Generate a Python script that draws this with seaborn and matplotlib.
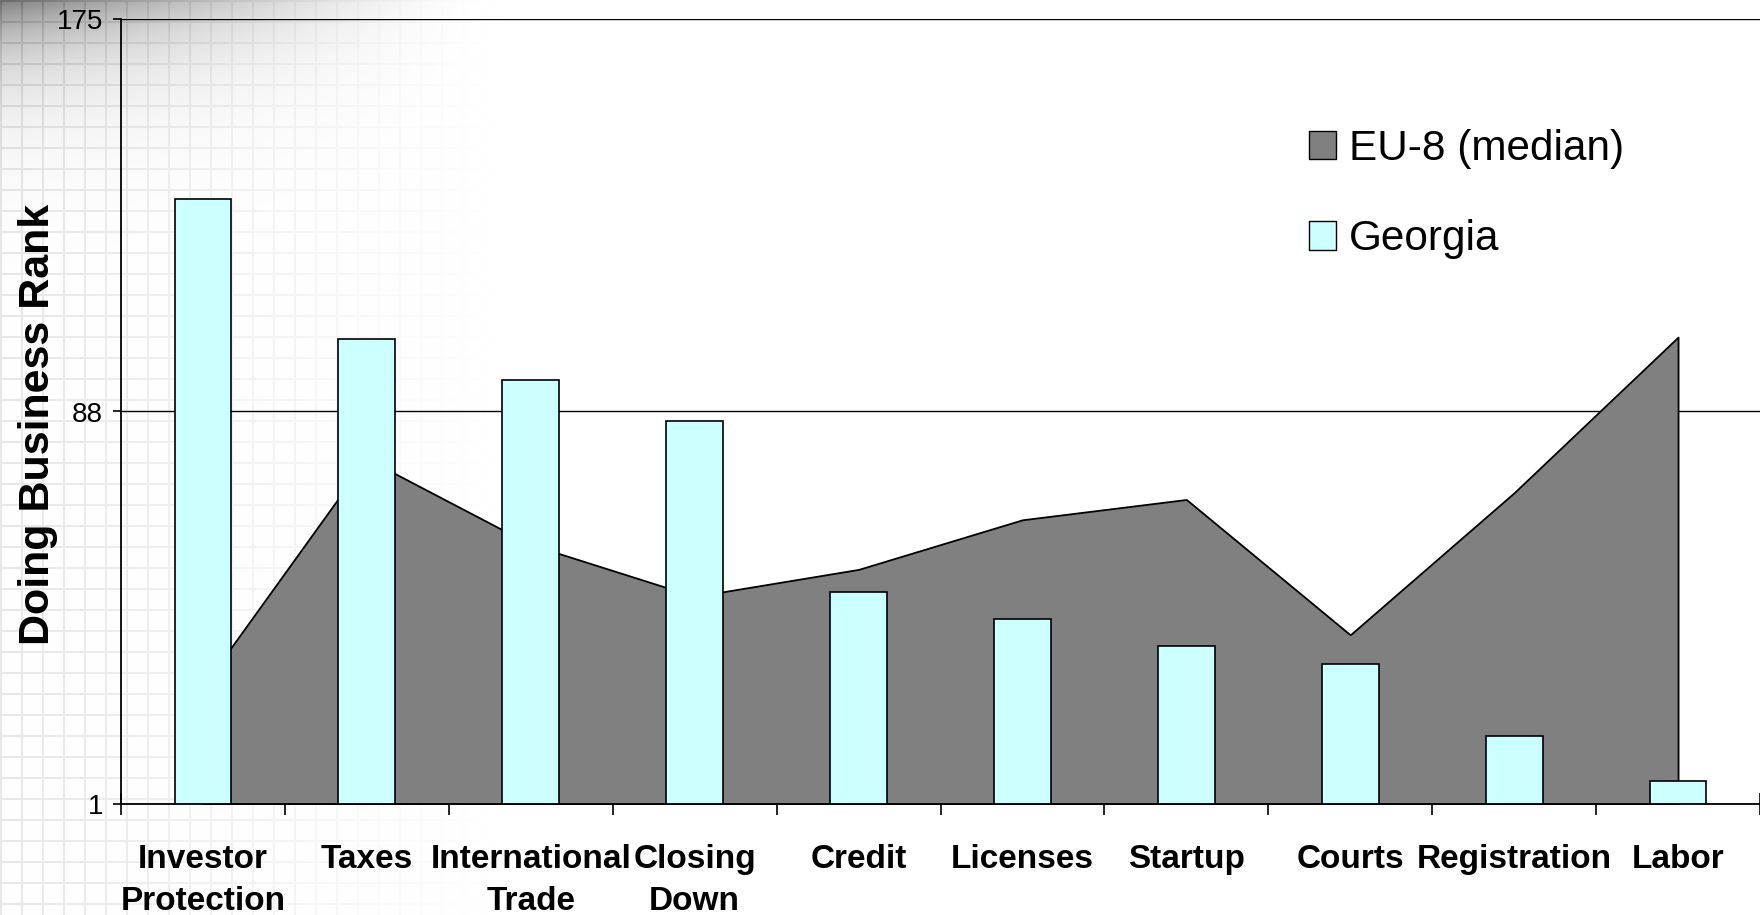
import numpy as np
import pandas as pd
import matplotlib
matplotlib.use('Agg')
import matplotlib.pyplot as plt
import seaborn as sns
from matplotlib.patches import Patch

# Doing Business ranks
categories = ["Investor\nProtection", "Taxes", "International\nTrade", "Closing\nDown",
              "Credit", "Licenses", "Startup", "Courts", "Registration", "Labor"]
georgia = [135, 104, 95, 86, 48, 42, 36, 32, 16, 6]
eu8_median = [27, 77.5, 58.5, 47, 53, 64, 68.5, 38.5, 70, 104.5]
y_ticks = [1, 88, 175]

sns.set_theme(style="white")
plt.rcParams['font.family'] = ['Liberation Sans', 'DejaVu Sans']
plt.rcParams['text.color'] = 'black'
plt.rcParams['axes.labelcolor'] = 'black'
plt.rcParams['xtick.color'] = 'black'
plt.rcParams['ytick.color'] = 'black'

W, H = 1760, 915
fig = plt.figure(figsize=(W / 100, H / 100), dpi=100)

# slide background: grey fade in the top-left corner plus a faint square texture
bg = fig.add_axes([0, 0, 1, 1], zorder=-10)
yy, xx = np.mgrid[0:H, 0:W].astype(float)
shade = 0.5 * np.exp(-yy / 55.0) * np.clip(1 - xx / 470.0, 0, 1) ** 1.4
grid = ((xx % 21 < 2) | (yy % 21 < 2)).astype(float)
tex = 0.09 * grid * np.clip(1 - xx / 500.0, 0, 1)
val = np.clip(1 - shade - tex, 0, 1)
bg.imshow(np.dstack([val, val, val]), aspect='auto', interpolation='bilinear')
bg.axis('off')

ax = fig.add_axes([121 / W, 1 - 804 / H, (W - 121) / W, 785 / H])
ax.patch.set_alpha(0)

df = pd.DataFrame({'category': categories, 'georgia': georgia, 'eu8': eu8_median})
pos = np.arange(len(categories))

# EU-8 median as an area behind the bars
ax.fill_between(pos, 1, df['eu8'], facecolor='#808080', edgecolor='black',
                linewidth=1.3, zorder=1)
sns.barplot(data=df, x='category', y='georgia', color='#CCFFFF', saturation=1,
            width=0.347, edgecolor='black', linewidth=1.2, ax=ax, zorder=2)

ax.set_xlim(-0.5, 9.5 - 4 / 164.3)
ax.set_ylim(1, 175)
ax.set_yticks(y_ticks)
ax.set_yticklabels([str(t) for t in y_ticks], fontsize=20, color='black')

ax.set_axisbelow(True)
ax.yaxis.grid(True, color='black', linewidth=1.0)
ax.xaxis.grid(False)

ax.set_xticks(pos)
ax.set_xticklabels(categories, fontsize=24, fontweight='bold', linespacing=1.43,
                   color='black')
ax.set_xticks(np.arange(-0.5, 10, 1), minor=True)
ax.tick_params(axis='x', which='major', length=0, pad=29)
ax.tick_params(axis='x', which='minor', direction='inout', length=16, width=1.2,
               color='black', bottom=True)
ax.tick_params(axis='y', direction='out', length=6, width=1.2, color='black',
               pad=7, left=True)

ax.set_xlabel('')
ax.set_ylabel('Doing Business Rank', fontsize=31, fontweight='bold', color='black')
ax.yaxis.set_label_coords(-0.0383, 0.484)

for side in ['top', 'right']:
    ax.spines[side].set_visible(False)
for side in ['left', 'bottom']:
    ax.spines[side].set_color('black')
    ax.spines[side].set_linewidth(1.3)

handles = [Patch(facecolor='#808080', edgecolor='black', label='EU-8 (median)'),
           Patch(facecolor='#CCFFFF', edgecolor='black', label='Georgia')]
fig.legend(handles=handles, loc='upper left', bbox_to_anchor=(1309 / W, 1 - 129 / H),
           frameon=False, fontsize=30.4, handlelength=0.65, handleheight=0.65,
           handletextpad=0.3, labelspacing=1.19, borderpad=0, borderaxespad=0)

fig.savefig('out.png', dpi=100)
